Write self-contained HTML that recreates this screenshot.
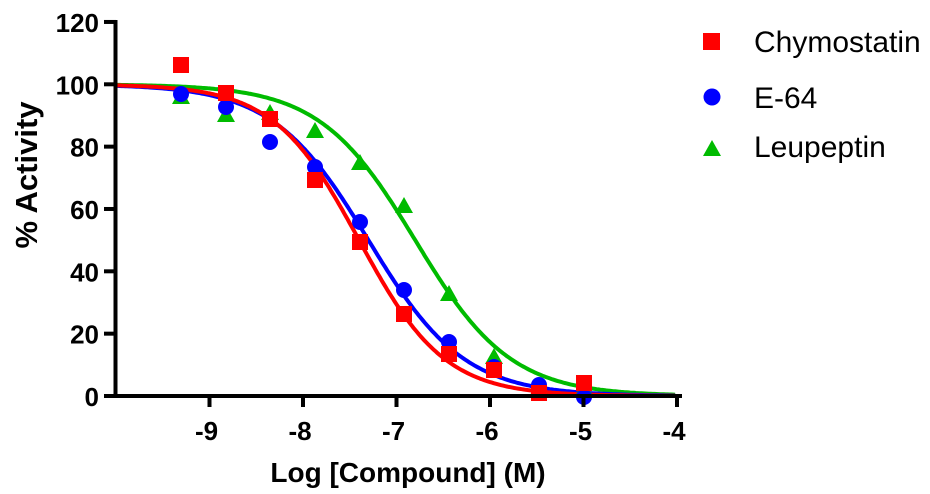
<!DOCTYPE html>
<html><head><meta charset="utf-8"><style>
html,body{margin:0;padding:0;background:#fff;}
svg{display:block;font-family:"Liberation Sans",Arial,sans-serif;}
</style></head><body>
<svg id="s" width="930" height="494" viewBox="0 0 930 494" xmlns="http://www.w3.org/2000/svg">
<g id="curves" fill="none" stroke-width="4"></g>
<g id="pts"></g>
<g stroke="#000" stroke-width="4" fill="none">
<line x1="115.5" y1="20" x2="115.5" y2="398"/>
<line x1="113" y1="396" x2="682" y2="396"/>
</g>
<g id="ticks" stroke="#000" stroke-width="4"></g>
<g font-size="26" font-weight="bold" text-anchor="end" id="ylab"></g>
<g font-size="26" font-weight="bold" text-anchor="middle" id="xlab"></g>
<text x="408" y="482" font-size="28" font-weight="bold" text-anchor="middle">Log [Compound] (M)</text>
<text transform="translate(37,175) rotate(-90)" font-size="31" font-weight="bold" text-anchor="middle">% Activity</text>
<rect x="703" y="33" width="17" height="17" fill="#f00"/>
<text x="754" y="52" font-size="30">Chymostatin</text>
<circle cx="712" cy="97" r="8.5" fill="#00f"/>
<text x="754" y="108" font-size="30">E-64</text>
<polygon points="712,140 721,156 703,156" fill="#0b0"/>
<text x="754" y="157" font-size="30">Leupeptin</text>
</svg>
<script>
var NS="http://www.w3.org/2000/svg";
function X(v){return 116+(v+10)*93.5;}
function Y(v){return 396-v*3.117;}
function el(n,a,p){var e=document.createElementNS(NS,n);for(var k in a)e.setAttribute(k,a[k]);document.getElementById(p).appendChild(e);return e;}
for(var i=0;i<=6;i++){var v=i*20;el("line",{x1:104,y1:Y(v),x2:116,y2:Y(v)},"ticks");var t=el("text",{x:99,y:Y(v)+10},"ylab");t.textContent=v;}
for(var j=-9;j<=-4;j++){el("line",{x1:X(j),y1:396,x2:X(j),y2:407},"ticks");var t=el("text",{x:X(j)-3,y:440},"xlab");t.textContent=j;}
function curve(c,h,col){var d="";for(var x=-10;x<=-4.0001;x+=0.02){var y=100/(1+Math.pow(10,h*(x-c)));d+=(d?"L":"M")+X(x).toFixed(1)+","+Y(y).toFixed(1);}el("path",{d:d,stroke:col},"curves");}
curve(-6.8,0.85,"#0b0");curve(-7.3,0.85,"#00f");curve(-7.4,0.95,"#f00");
var px=[181,226,270,315,360,404,449,494,539,584];
var g=[97,115,113,131,163,206,294,357,388,389];
var b=[94,107,142,167,222,290,342,367,385,397];
var r=[65,93,119,180,242,314,354,370,393,383];
for(var i=0;i<10;i++){var x=px[i],y=g[i];el("polygon",{points:x+","+(y-9)+" "+(x+9)+","+(y+7)+" "+(x-9)+","+(y+7),fill:"#0b0"},"pts");}
for(var i=0;i<10;i++){el("circle",{cx:px[i],cy:b[i],r:8,fill:"#00f"},"pts");}
for(var i=0;i<10;i++){el("rect",{x:px[i]-8,y:r[i]-8,width:16,height:16,fill:"#f00"},"pts");}
</script>
</body></html>
